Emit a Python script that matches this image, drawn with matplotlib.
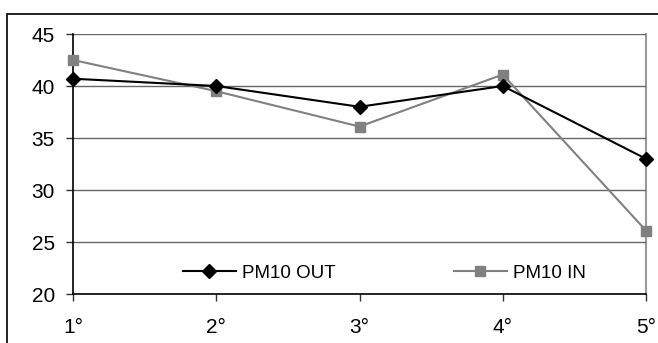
import matplotlib
matplotlib.use("Agg")
import matplotlib.pyplot as plt
from matplotlib.patches import Rectangle

# Data
categories = ["1°", "2°", "3°", "4°", "5°"]
pm10_out = [40.7, 40.0, 38.0, 40.0, 33.0]
pm10_in = [42.5, 39.5, 36.1, 41.1, 26.1]
y_ticks = [20, 25, 30, 35, 40, 45]

W, H = 658, 343
plt.rcParams['font.family'] = ['Liberation Sans', 'DejaVu Sans']
plt.rcParams['font.size'] = 13

fig = plt.figure(figsize=(W / 100, H / 100), dpi=100)
fig.patch.set_facecolor('white')

# outer chart frame (runs off the right/bottom edge)
fig.patches.append(Rectangle((7 / W, -0.05), 1.1, 1 - 14 / H + 0.05,
                             transform=fig.transFigure, fill=False,
                             edgecolor='black', linewidth=1.2))

ax = fig.add_axes([73 / W, (H - 294) / H, 573 / W, 260 / H])
x = list(range(len(categories)))

for yv in y_ticks[1:]:
    ax.axhline(yv, color='#666666', linewidth=1.0, zorder=1)

ax.plot(x, pm10_out, color='black', linewidth=1.5, marker='D', markersize=7,
        label='PM10 OUT', zorder=4, clip_on=False)
ax.plot(x, pm10_in, color='#808080', linewidth=1.5, marker='s', markersize=7,
        label='PM10 IN', zorder=3, clip_on=False)

ax.set_xlim(0, 4)
ax.set_ylim(20, 45)
ax.set_xticks(x)
ax.set_xticklabels(categories)
ax.set_yticks(y_ticks)

for s in ['left', 'bottom']:
    ax.spines[s].set_color('black')
    ax.spines[s].set_linewidth(1.2)
ax.spines['top'].set_visible(False)
ax.spines['right'].set_color('#999999')
ax.spines['right'].set_linewidth(1.5)
ax.spines['right'].set_zorder(0.5)

ax.tick_params(axis='y', length=5, width=1, pad=8, color='#333333', labelsize=15)
ax.tick_params(axis='x', length=5, width=1, pad=12, color='#333333', labelsize=15)

ax.legend(loc='center left', bbox_to_anchor=(0.176, 0.08), ncol=2,
          frameon=False, borderpad=0, handlelength=2.8, handletextpad=0.35,
          columnspacing=6.3, fontsize=13.5)

fig.savefig("out.png", dpi=100)
